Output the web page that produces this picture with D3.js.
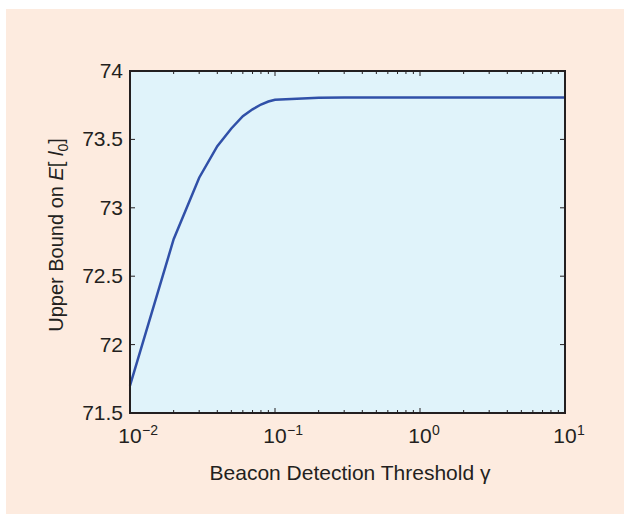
<!DOCTYPE html>
<html><head><meta charset="utf-8">
<script src="https://cdn.jsdelivr.net/npm/d3@7"></script>
<style>body{margin:0;background:#fff}svg{display:block}text{font-family:"Liberation Sans",Arial,sans-serif;fill:#231f20}</style>
</head><body>
<svg id="c" width="624" height="514"></svg>
<script>
const gamma = [0.01,0.02,0.03,0.04,0.05,0.06,0.07,0.08,0.09,0.1,0.2,0.3,0.5,1,2,5,10];
const bound = [71.70,72.77,73.22,73.45,73.58,73.67,73.72,73.755,73.777,73.79,73.805,73.806,73.806,73.806,73.806,73.806,73.806];
const xTickExp = [-2,-1,0,1];
const yTicks = [71.5,72,72.5,73,73.5,74];

const svg = d3.select("#c");
const L=130,R=565,T=71,B=413;
svg.append("rect").attr("x",6).attr("y",9).attr("width",618).attr("height",505).attr("fill","#fdebdf");
svg.append("rect").attr("x",L).attr("y",T).attr("width",R-L).attr("height",B-T).attr("fill","#e0f3fa");

const x = d3.scaleLog().domain([0.01,10]).range([L,R]);
const y = d3.scaleLinear().domain([71.5,74]).range([B,T]);

const minor=[];
for(let e=-2;e<1;e++) for(let k=2;k<=9;k++) minor.push(k*Math.pow(10,e));
const g=svg.append("g").attr("stroke","#231f20").attr("stroke-width",1);
minor.forEach(v=>{
  g.append("line").attr("x1",x(v)).attr("x2",x(v)).attr("y1",B).attr("y2",B-3);
  g.append("line").attr("x1",x(v)).attr("x2",x(v)).attr("y1",T).attr("y2",T+3);
});
xTickExp.forEach(e=>{
  const v=Math.pow(10,e);
  g.append("line").attr("x1",x(v)).attr("x2",x(v)).attr("y1",B).attr("y2",B-5);
  g.append("line").attr("x1",x(v)).attr("x2",x(v)).attr("y1",T).attr("y2",T+5);
  svg.append("text").attr("x",x(v)).attr("y",443).attr("text-anchor","middle").attr("font-size",21).text("10");
  svg.append("text").attr("x",x(v)+12).attr("y",435).attr("font-size",14).text((e<0?"\u2212":"")+Math.abs(e));
});
yTicks.forEach(v=>{
  g.append("line").attr("x1",L).attr("x2",L+5).attr("y1",y(v)).attr("y2",y(v));
  g.append("line").attr("x1",R).attr("x2",R-5).attr("y1",y(v)).attr("y2",y(v));
  svg.append("text").attr("x",L-7).attr("y",y(v)+7).attr("text-anchor","end").attr("font-size",21).text(v);
});

svg.append("path").datum(gamma.map((d,i)=>[d,bound[i]]))
  .attr("d",d3.line().x(d=>x(d[0])).y(d=>y(d[1])))
  .attr("fill","none").attr("stroke","#3050a8").attr("stroke-width",2.5);

svg.append("rect").attr("x",L).attr("y",T).attr("width",R-L).attr("height",B-T)
  .attr("fill","none").attr("stroke","#231f20").attr("stroke-width",2);

svg.append("text").attr("x",350).attr("y",480).attr("text-anchor","middle").attr("font-size",21)
  .text("Beacon Detection Threshold \u03b3");

const yl=svg.append("text").attr("transform","translate(63,235) rotate(-90)").attr("text-anchor","middle").attr("font-size",20);
yl.append("tspan").text("Upper Bound on ");
yl.append("tspan").attr("font-style","italic").text("E");
yl.append("tspan").text("[ ");
yl.append("tspan").attr("font-style","italic").text("l");
yl.append("tspan").attr("dy",5).attr("font-size",14).text("0");
yl.append("tspan").attr("dy",-5).text("]");
</script>
</body></html>
